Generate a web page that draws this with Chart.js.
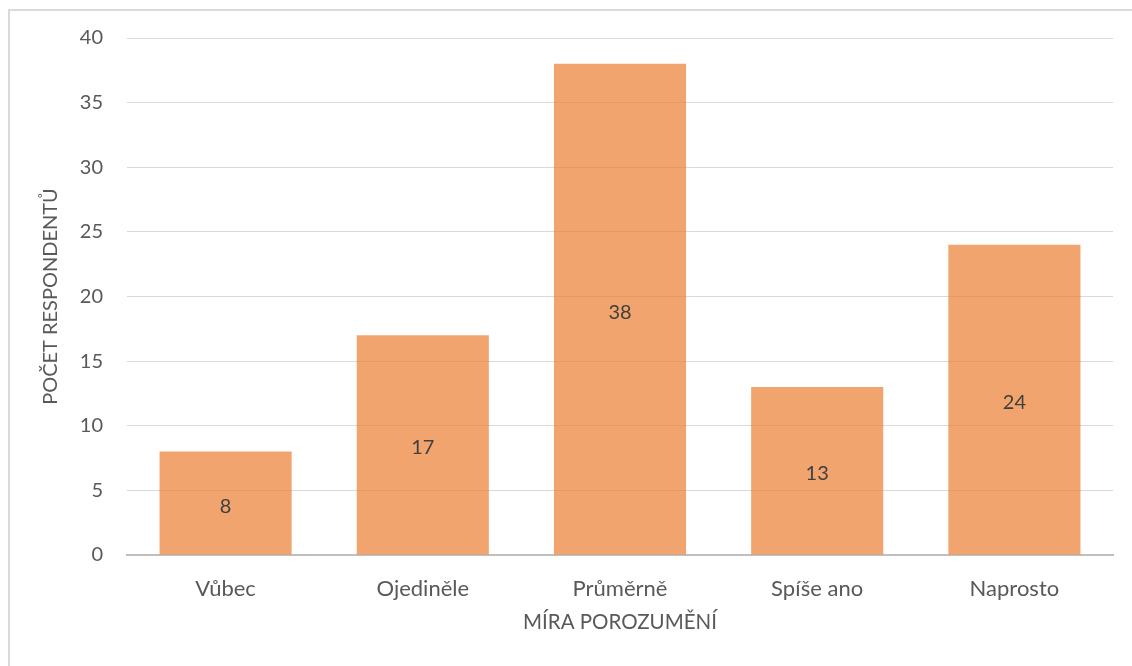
<!DOCTYPE html>
<html lang="cs">
<head>
<meta charset="utf-8">
<title>Míra porozumění</title>
<script src="https://cdn.jsdelivr.net/npm/chart.js@4/dist/chart.umd.min.js"></script>
<style>
  html, body { margin: 0; padding: 0; background: #fff; overflow: hidden; }
  #wrap { position: relative; width: 1132px; height: 666px; }
  #frame {
    position: absolute; left: 8px; top: 9px; right: 0; bottom: 0;
    border-left: 2px solid #d9d9d9; border-top: 2px solid #d9d9d9;
    pointer-events: none;
  }
  #chart { position: absolute; left: 0; top: 0; }
</style>
</head>
<body>
<div id="wrap">
  <div id="frame"></div>
  <canvas id="chart" width="1132" height="666"></canvas>
</div>
<script>
const categories = ['Vůbec', 'Ojediněle', 'Průměrně', 'Spíše ano', 'Naprosto'];
const respondents = [8, 17, 38, 13, 24];
const yTicks = [0, 5, 10, 15, 20, 25, 30, 35, 40];

const fontFamily = 'Lato, "Open Sans", sans-serif';

// prints each value in the middle of its bar
const barValues = {
  id: 'barValues',
  afterDatasetsDraw(chart) {
    const ctx = chart.ctx;
    ctx.save();
    ctx.font = '20px ' + fontFamily;
    ctx.fillStyle = '#404040';
    ctx.textAlign = 'center';
    ctx.textBaseline = 'middle';
    chart.getDatasetMeta(0).data.forEach((bar, i) => {
      const y = (bar.y + bar.base) / 2 + 3;
      ctx.fillText(String(chart.data.datasets[0].data[i]), bar.x, y);
    });
    ctx.restore();
  }
};

new Chart(document.getElementById('chart').getContext('2d'), {
  type: 'bar',
  data: {
    labels: categories,
    datasets: [{
      label: 'Počet respondentů',
      data: respondents,
      backgroundColor: 'rgba(237, 125, 49, 0.7)',
      borderWidth: 0,
      barPercentage: 0.67,
      categoryPercentage: 1
    }]
  },
  options: {
    responsive: false,
    animation: false,
    layout: { padding: { top: 38, right: 19, left: 0, bottom: 0 } },
    plugins: {
      legend: { display: false },
      tooltip: { enabled: false }
    },
    scales: {
      x: {
        grid: { display: false, drawTicks: false },
        border: { display: true, color: '#bfbfbf', width: 2 },
        ticks: {
          color: '#595959',
          padding: 21,
          font: { family: fontFamily, size: 22 }
        },
        title: {
          display: true,
          text: 'MÍRA POROZUMĚNÍ',
          color: '#595959',
          font: { family: fontFamily, size: 20.5 },
          padding: { top: 0, bottom: 31 }
        },
        afterFit(scale) { scale.height = 111; }
      },
      y: {
        min: 0,
        max: 40,
        afterBuildTicks(scale) { scale.ticks = yTicks.map(v => ({ value: v })); },
        grid: {
          drawTicks: false,
          color: ctx => ctx.tick && ctx.tick.value === 0 ? 'rgba(0,0,0,0)' : '#d9d9d9',
          lineWidth: 1
        },
        border: { display: false },
        ticks: {
          color: '#595959',
          padding: 24,
          font: { family: fontFamily, size: 20 }
        },
        title: {
          display: true,
          text: 'POČET RESPONDENTŮ',
          color: '#595959',
          font: { family: fontFamily, size: 20 },
          padding: { top: 39, bottom: 0 }
        },
        afterFit(scale) { scale.width = 127; }
      }
    }
  },
  plugins: [barValues]
});
</script>
</body>
</html>
